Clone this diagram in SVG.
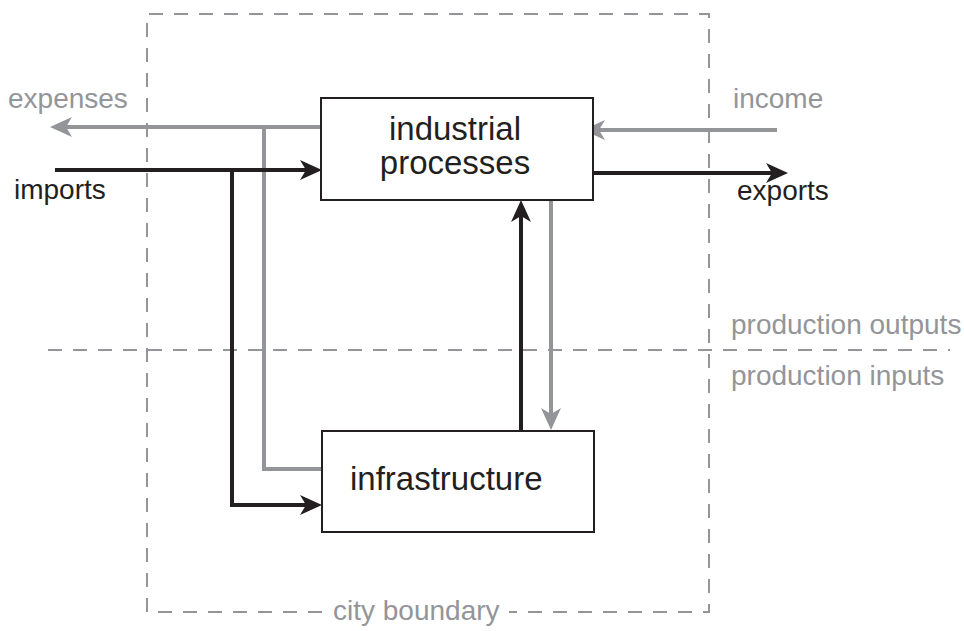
<svg xmlns="http://www.w3.org/2000/svg" width="964" height="631" viewBox="0 0 964 631">
<style>
.box{fill:#fff;stroke:#231f20;stroke-width:2}
.t{font-family:"Liberation Sans",Arial,sans-serif;font-size:33px;fill:#231f20}
.lbl{font-family:"Liberation Sans",Arial,sans-serif;font-size:28px}
.g{fill:#939598}
.k{fill:#231f20}
.dash{fill:none;stroke:#939598;stroke-width:2;stroke-dasharray:14 11}
.ka{fill:none;stroke:#231f20;stroke-width:4}
.ga{fill:none;stroke:#939598;stroke-width:4}
</style>
<defs>
<marker id="ak" markerUnits="userSpaceOnUse" markerWidth="30" markerHeight="30" viewBox="-10 -15 30 30" refX="0" refY="0" orient="auto"><path d="M16,0 L-6,-10 L0,0 L-6,10 Z" fill="#231f20"/></marker>
<marker id="ag" markerUnits="userSpaceOnUse" markerWidth="30" markerHeight="30" viewBox="-10 -15 30 30" refX="0" refY="0" orient="auto"><path d="M16,0 L-6,-10 L0,0 L-6,10 Z" fill="#939598"/></marker>
</defs>
<g id="boundaries">
<path class="dash" d="M322,612 H147 V14 H709 V612 H509"/>
<path class="dash" d="M48,350 H950"/>
<text class="lbl g" x="333" y="620">city boundary</text>
<text class="lbl g" x="731" y="334">production outputs</text>
<text class="lbl g" x="731" y="385">production inputs</text>
</g>
<g id="connectors">
<path class="ga" marker-end="url(#ag)" d="M321,127 H66"/>
<path class="ga" d="M264,127 V469 H322"/>
<path class="ka" marker-end="url(#ak)" d="M55,170 H306"/>
<path class="ka" marker-end="url(#ak)" d="M232,170 V505 H306"/>
<path class="ga" marker-end="url(#ag)" d="M777,130 H599"/>
<path class="ka" marker-end="url(#ak)" d="M593,173 H772"/>
<path class="ka" marker-end="url(#ak)" d="M521,431 V216"/>
<path class="ga" marker-end="url(#ag)" d="M551,200 V414"/>
</g>
<g id="industrial-processes">
<rect class="box" x="321" y="98" width="272" height="102"/>
<text class="t" x="455" y="140" text-anchor="middle">industrial</text>
<text class="t" x="455" y="174" text-anchor="middle">processes</text>
</g>
<g id="infrastructure">
<rect class="box" x="322" y="431" width="272" height="101"/>
<text class="t" x="350" y="490">infrastructure</text>
</g>
<g id="labels">
<text class="lbl g" x="8" y="108">expenses</text>
<text class="lbl k" x="14" y="199">imports</text>
<text class="lbl g" x="733" y="108">income</text>
<text class="lbl k" x="737" y="200">exports</text>
</g>
</svg>
